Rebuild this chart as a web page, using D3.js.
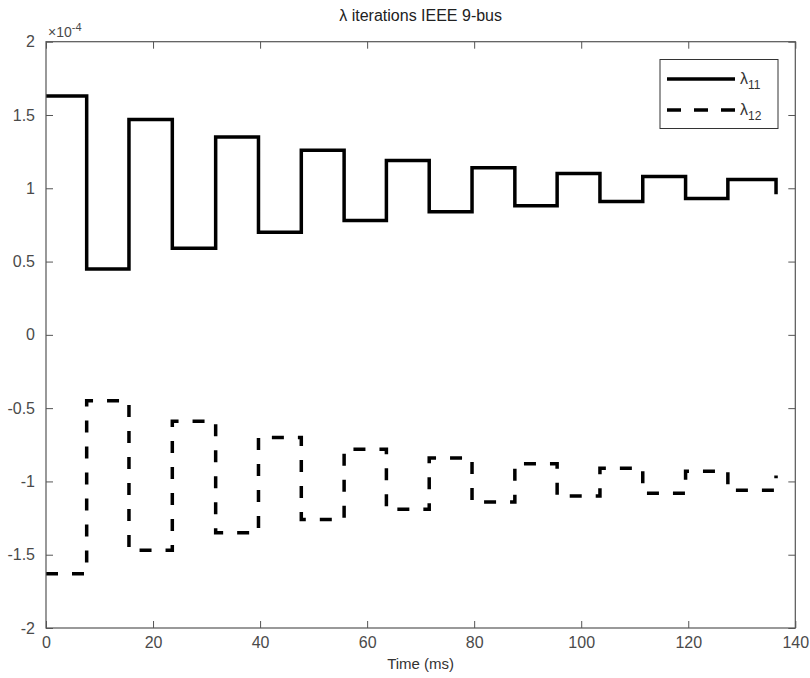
<!DOCTYPE html>
<html>
<head>
<meta charset="utf-8">
<script src="https://cdn.jsdelivr.net/npm/d3@7"></script>
<style>
  body { margin: 0; background: #fff; }
  svg { display: block; font-family: "Liberation Sans", Arial, sans-serif; }
</style>
</head>
<body>
<div id="chart"></div>
<script>
// step start times (ms)
const times = [0, 7.6, 15.5, 23.6, 31.7, 39.7, 47.7, 55.7, 63.6, 71.6, 79.6, 87.6, 95.5, 103.5, 111.5, 119.5, 127.4, 136.4];
// values in units of 1e-4
const lambda11 = [1.63, 0.45, 1.47, 0.59, 1.35, 0.70, 1.26, 0.78, 1.19, 0.84, 1.14, 0.88, 1.10, 0.91, 1.08, 0.93, 1.06, 0.96];
const lambda12 = [-1.63, -0.45, -1.47, -0.59, -1.35, -0.70, -1.26, -0.78, -1.19, -0.84, -1.14, -0.88, -1.10, -0.91, -1.08, -0.93, -1.06, -0.96];
const xTicks = [0, 20, 40, 60, 80, 100, 120, 140];
const yTicks = [-2, -1.5, -1, -0.5, 0, 0.5, 1, 1.5, 2];

(() => {
  const width = 810, height = 678;
  const left = 46, right = 795.3, top = 41.7, bottom = 628;
  const axisColor = "#555";
  const labelColor = "#4a4a4a";

  const svg = d3.select("#chart").append("svg")
    .attr("width", width)
    .attr("height", height);

  const x = d3.scaleLinear().domain([0, 140]).range([left, right]);
  const y = d3.scaleLinear().domain([-2, 2]).range([bottom, top]);

  const line = d3.line()
    .x((d, i) => x(times[i]))
    .y(d => y(d))
    .curve(d3.curveStepAfter);

  // series
  svg.append("path")
    .attr("d", line(lambda11))
    .attr("fill", "none")
    .attr("stroke", "#000")
    .attr("stroke-width", 3.5);

  svg.append("path")
    .attr("d", line(lambda12))
    .attr("fill", "none")
    .attr("stroke", "#000")
    .attr("stroke-width", 3.5)
    .attr("stroke-dasharray", "12,14");

  // axes with inward ticks on all four sides
  const tickLen = 7;

  svg.append("g")
    .attr("transform", `translate(0,${bottom})`)
    .call(d3.axisBottom(x).tickValues(xTicks).tickSize(-tickLen).tickPadding(9).tickFormat(d3.format("d")))
    .call(g => g.select(".domain").remove())
    .call(g => g.selectAll("line").attr("stroke", axisColor))
    .call(g => g.selectAll("text").attr("fill", labelColor).style("font-size", "16px")
      .style("font-family", "Liberation Sans, Arial, sans-serif"));

  svg.append("g")
    .attr("transform", `translate(0,${top})`)
    .call(d3.axisTop(x).tickValues(xTicks).tickSize(-tickLen).tickFormat(""))
    .call(g => g.select(".domain").remove())
    .call(g => g.selectAll("line").attr("stroke", axisColor));

  svg.append("g")
    .attr("transform", `translate(${left},0)`)
    .call(d3.axisLeft(y).tickValues(yTicks).tickSize(-tickLen).tickPadding(11).tickFormat(d => String(d)))
    .call(g => g.select(".domain").remove())
    .call(g => g.selectAll("line").attr("stroke", axisColor))
    .call(g => g.selectAll("text").attr("fill", labelColor).style("font-size", "16px")
      .style("font-family", "Liberation Sans, Arial, sans-serif"));

  svg.append("g")
    .attr("transform", `translate(${right},0)`)
    .call(d3.axisRight(y).tickValues(yTicks).tickSize(-tickLen).tickFormat(""))
    .call(g => g.select(".domain").remove())
    .call(g => g.selectAll("line").attr("stroke", axisColor));

  // frame
  svg.append("rect")
    .attr("x", left).attr("y", top)
    .attr("width", right - left).attr("height", bottom - top)
    .attr("fill", "none")
    .attr("stroke", axisColor)
    .attr("stroke-width", 1.2);

  // exponent label
  const expo = svg.append("text")
    .attr("x", left + 2).attr("y", 37)
    .attr("fill", labelColor)
    .style("font-size", "14px");
  expo.append("tspan").text("×10");
  expo.append("tspan").attr("dy", -6).style("font-size", "11px").text("-4");

  // title
  svg.append("text")
    .attr("x", (left + right) / 2).attr("y", 21)
    .attr("text-anchor", "middle")
    .attr("fill", "#222")
    .style("font-size", "16px")
    .text("λ iterations IEEE 9-bus");

  // x label
  svg.append("text")
    .attr("x", (left + right) / 2).attr("y", 669)
    .attr("text-anchor", "middle")
    .attr("fill", "#333")
    .style("font-size", "15px")
    .text("Time (ms)");

  // legend
  const legend = svg.append("g");
  legend.append("rect")
    .attr("x", 660).attr("y", 59.5)
    .attr("width", 118).attr("height", 69)
    .attr("fill", "#fff")
    .attr("stroke", "#333")
    .attr("stroke-width", 1);

  const items = [
    { label: "11", dash: null, yPos: 79 },
    { label: "12", dash: "14,13", yPos: 110 }
  ];
  items.forEach(it => {
    legend.append("line")
      .attr("x1", 667).attr("x2", 735)
      .attr("y1", it.yPos).attr("y2", it.yPos)
      .attr("stroke", "#000")
      .attr("stroke-width", 3.5)
      .attr("stroke-dasharray", it.dash);
    const t = legend.append("text")
      .attr("x", 740).attr("y", it.yPos + 5)
      .attr("fill", "#333")
      .style("font-size", "16px");
    t.append("tspan").text("λ");
    t.append("tspan").attr("dy", 5).style("font-size", "12px").text(it.label);
  });
})();
</script>
</body>
</html>
